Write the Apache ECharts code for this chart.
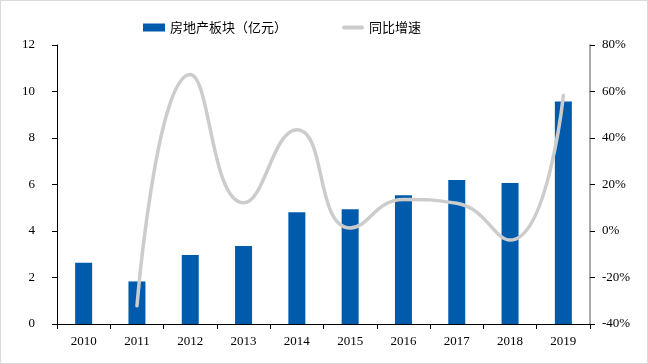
<!DOCTYPE html>
<html><head><meta charset="utf-8">
<script src="https://cdn.jsdelivr.net/npm/echarts@6/dist/echarts.min.js"></script>
<style>
html,body{margin:0;padding:0;background:#fff;}
#c{position:absolute;left:0;top:0;width:646px;height:362px;border:1px solid #d9d9d9;}
</style></head><body>
<div id="c"></div>
<script>
const categories = ['2010','2011','2012','2013','2014','2015','2016','2017','2018','2019'];
const barValues = [2.63, 1.83, 2.97, 3.36, 4.81, 4.94, 5.54, 6.19, 6.06, 9.57];
const growthValues = [null, -32.2, 67.3, 12.1, 43.6, 1.3, 13.6, 11.9, -3.9, 58.3];
const leftTicks = [0, 12, 2];
const rightTicks = [-40, 80, 20];
const barName = '房地产板块（亿元）';
const lineName = '同比增速';

const font = '"Liberation Serif", "Noto Sans CJK SC", serif';
const chart = echarts.init(document.getElementById('c'));
chart.setOption({
  animation: false,
  textStyle: { fontFamily: font },
  legend: {
    top: 15, left: 137, itemGap: 55,
    itemWidth: 22, itemHeight: 8,
    symbolKeepAspect: true,
    textStyle: { fontFamily: '"Noto Sans CJK SC", serif', fontSize: 13, color: '#000' },
    data: [
      { name: barName, icon: 'rect' },
      { name: lineName, icon: 'path://M2,0 L20,0 A2,2 0 0 1 20,4 L2,4 A2,2 0 0 1 2,0 Z', itemStyle: { color: '#cccccc', borderWidth: 0 } }
    ]
  },
  grid: { left: 56, right: 57, top: 44, bottom: 39 },
  xAxis: {
    type: 'category', data: categories,
    axisLine: { lineStyle: { color: '#000', width: 1 } },
    axisTick: { show: true, length: 5, lineStyle: { color: '#000' } },
    axisLabel: { color: '#000', fontSize: 13, margin: 11, fontFamily: font }
  },
  yAxis: [
    {
      type: 'value', min: leftTicks[0], max: leftTicks[1], interval: leftTicks[2],
      axisLine: { show: true, lineStyle: { color: '#000' } },
      axisTick: { show: true, length: 5, lineStyle: { color: '#000' } },
      splitLine: { show: false },
      axisLabel: { color: '#000', fontSize: 13, margin: 22, fontFamily: font }
    },
    {
      type: 'value', min: rightTicks[0], max: rightTicks[1], interval: rightTicks[2],
      axisLine: { show: true, lineStyle: { color: '#aaaaaa', width: 2 } },
      axisTick: { show: true, length: 5, lineStyle: { color: '#000' } },
      splitLine: { show: false },
      axisLabel: { color: '#000', fontSize: 13, margin: 12, fontFamily: font, formatter: '{value}%' }
    }
  ],
  series: [
    {
      name: barName, type: 'bar', data: barValues, barWidth: 17,
      itemStyle: { color: '#005bac' }
    },
    {
      name: lineName, type: 'line', yAxisIndex: 1, data: growthValues,
      smooth: 0.5, symbol: 'none',
      lineStyle: { color: '#cccccc', width: 3.5, cap: 'round' },
      itemStyle: { color: '#cccccc' }
    }
  ]
});
</script>
</body></html>
